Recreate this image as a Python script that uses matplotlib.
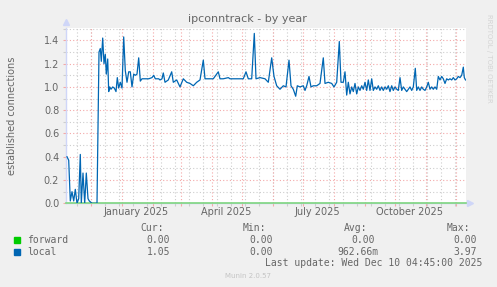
import datetime as dt
import matplotlib
matplotlib.use("Agg")
import matplotlib.pyplot as plt
import matplotlib.dates as mdates

# time range of the munin "by year" graph (400 days ending at last update)
end = dt.datetime(2025, 12, 10, 4, 45)
start = end - dt.timedelta(days=400)

# local: days since start, established connections (daily averages)
local_days = [
    1.5, 3.2, 4.8, 6.5, 8.2, 9.8, 11.5, 13.2, 14.8, 15.8, 17.5, 19.2, 20.8, 22.5,
    23.8, 26.5, 31.5, 33.5, 34.8, 35.8, 37.2, 38.5, 39.8, 40.8, 42.2, 43.2, 44.2,
    45.5, 47.2, 48.8, 50.5, 51.8, 53.2, 54.8, 56.5, 58.2, 59.8, 61.5, 63.2, 64.8,
    66.5, 68.2, 69.8, 71.5, 73.2, 74.8, 76.5, 79.8, 83.2, 86.5, 88.2, 89.8, 93.2,
    94.5, 96.5, 97.8, 99.5, 102.8, 106.2, 107.8, 111.2, 114.5, 117.8, 121.2, 124.5,
    127.8, 131.2, 134.5, 137.8, 139.5, 142.8, 147.8, 152.8, 154.5, 157.8, 162.8,
    164.5, 167.8, 172.8, 177.8, 180.5, 182.8, 186.2, 188.8, 190.5, 194.5, 199.5,
    202.8, 206.2, 208.5, 211.2, 214.5, 217.8, 220.5, 223.5, 225.5, 227.8, 230.2,
    231.8, 234.5, 237.8, 239.5, 241.2, 243.5, 245.5, 247.8, 251.2, 254.5, 257.8,
    259.5, 262.8, 266.2, 268.5, 271.2, 273.8, 275.5, 277.8, 279.5, 281.2, 282.8,
    284.5, 286.2, 287.8, 289.5, 291.2, 292.8, 294.5, 296.2, 297.8, 299.5, 301.2,
    302.8, 304.5, 306.2, 307.8, 309.5, 311.2, 312.8, 314.5, 316.2, 317.8, 319.5,
    321.2, 322.8, 324.5, 326.2, 327.8, 329.5, 331.2, 332.8, 334.5, 336.2, 337.8,
    339.5, 341.2, 342.8, 344.5, 346.2, 347.8, 349.8, 351.2, 352.8, 354.5, 356.2,
    357.8, 359.5, 361.2, 362.8, 364.5, 366.2, 367.8, 369.5, 371.2, 372.8, 374.5,
    376.2, 377.8, 379.5, 381.2, 382.8, 384.5, 386.2, 387.8, 389.5, 391.2, 392.8,
    394.5, 396.2, 397.8, 398.8, 400.0,
]
local_vals = [
    0.40, 0.37, 0.02, 0.10, 0.02, 0.12, 0.00, 0.04, 0.42, 0.00, 0.26, 0.00, 0.26, 0.04,
    0.02, 0.00, 0.00, 1.30, 1.33, 1.22, 1.42, 1.20, 1.28, 1.11, 1.24, 0.96, 1.00,
    0.98, 1.00, 0.99, 0.96, 1.08, 0.99, 1.04, 0.99, 1.43, 1.14, 1.04, 1.13, 1.13,
    1.00, 1.11, 1.10, 1.11, 1.25, 1.05, 1.07, 1.07, 1.07, 1.08, 1.10, 1.07, 1.07,
    1.06, 1.07, 1.12, 1.04, 1.06, 1.13, 1.04, 1.06, 1.00, 1.07, 1.04, 1.03,
    1.01, 1.04, 1.06, 1.23, 1.07, 1.07, 1.07, 1.13, 1.07, 1.07, 1.08,
    1.07, 1.07, 1.07, 1.07, 1.13, 1.07, 1.07, 1.46, 1.07, 1.08, 1.07,
    1.04, 1.25, 1.09, 1.01, 0.98, 1.01, 1.00, 1.23, 1.01, 0.98, 0.92,
    1.01, 1.00, 1.01, 0.97, 1.01, 1.09, 1.00, 1.01, 1.01, 1.03, 1.25,
    1.03, 1.04, 1.03, 1.00, 1.04, 1.39, 1.04, 1.04, 1.13, 0.93, 1.04,
    0.94, 1.00, 0.96, 1.03, 0.94, 1.00, 0.97, 1.01, 0.98, 1.04, 0.97,
    1.06, 0.97, 1.07, 0.97, 1.00, 0.98, 1.01, 0.97, 1.00, 0.97, 1.00,
    0.98, 1.01, 0.96, 1.01, 0.97, 1.00, 0.98, 0.97, 1.08, 0.97, 1.00,
    0.98, 0.96, 0.98, 1.00, 0.97, 1.00, 1.16, 0.97, 1.00, 0.97, 1.00,
    0.98, 0.97, 1.00, 1.04, 0.98, 1.00, 0.98, 1.00, 0.98, 1.09, 1.06,
    1.09, 1.07, 1.03, 1.07, 1.06, 1.07, 1.06, 1.08, 1.06, 1.07, 1.09,
    1.08, 1.10, 1.17, 1.08, 1.06,
]

# legend table
legend_names = ["forward", "local"]
legend_colors = ["#00CC00", "#0066B3"]
col_heads = ["Cur:", "Min:", "Avg:", "Max:"]
forward_stats = ["0.00", "0.00", "0.00", "0.00"]
local_stats = ["1.05", "0.00", "962.66m", "3.97"]

y_ticks = [0.0, 0.2, 0.4, 0.6, 0.8, 1.0, 1.2, 1.4]
x_labels = ["January 2025", "April 2025", "July 2025", "October 2025"]
x_label_dates = [dt.datetime(2025, m, 15) for m in (1, 4, 7, 10)]

W, H = 497, 287
FONT = "#666666"
AXIS = "#CFD6F8"
RED = "#F4A8A8"
GREY = "#CDCDCD"

fig = plt.figure(figsize=(W / 100, H / 100), dpi=100, facecolor="#F0F0F0")
ax = fig.add_axes([65.5 / W, (H - 203.3) / H, 400 / W, 175.6 / H])
ax.set_facecolor("white")

t0 = mdates.date2num(start)
t1 = mdates.date2num(end)
ax.set_xlim(t0, t1)
ax.set_ylim(0, 1.509)

# grid like rrdtool: grey minor, red major, dotted
month_starts = [dt.datetime(2024 + (10 + k) // 12, (10 + k) % 12 + 1, 1) for k in range(1, 14)]
biweekly = [dt.datetime(2024, 11, 17) + dt.timedelta(days=14 * k) for k in range(28)]
biweekly = [d for d in biweekly if d < end]
for d in biweekly:
    ax.axvline(d, color=GREY, lw=0.8, ls=(0, (1, 2)), zorder=1)
for k in range(1, 16):
    if k % 2:
        ax.axhline(k / 10, color=GREY, lw=0.8, ls=(0, (1, 2)), zorder=1)
for d in month_starts:
    ax.axvline(d, color=RED, lw=0.8, ls=(0, (1, 2)), zorder=1.5)
for v in y_ticks[1:]:
    ax.axhline(v, color=RED, lw=0.8, ls=(0, (1, 2)), zorder=1.5)

ax.set_xticks(month_starts)
ax.set_xticklabels([])
ax.set_xticks(biweekly, minor=True)
ax.set_yticks(y_ticks)
ax.set_yticklabels([f"{v:.1f}" for v in y_ticks])
ax.tick_params(axis="both", which="major", length=2.5, width=0.8, color=RED,
               labelsize=7, labelcolor=FONT, pad=2)
ax.tick_params(axis="both", which="minor", length=2.5, width=0.8, color=GREY)
ax.set_yticks([k / 10 for k in range(1, 16, 2)], minor=True)

for lab, d in zip(x_labels, x_label_dates):
    ax.text(d, -0.05, lab, transform=ax.get_xaxis_transform(), ha="center", va="center",
            fontsize=7, color=FONT)

for s in ["top", "right"]:
    ax.spines[s].set_visible(False)
for s in ["left", "bottom"]:
    ax.spines[s].set_color(AXIS)
    ax.spines[s].set_linewidth(1)
# axis arrows
ax.plot([0], [1.03], marker="^", ms=4, color=AXIS, transform=ax.transAxes, clip_on=False)
ax.plot([1.012], [0], marker=">", ms=4, color=AXIS, transform=ax.transAxes, clip_on=False)

ax.set_ylabel("established connections", fontsize=7, color=FONT)
ax.yaxis.set_label_coords((17.5 - 65.5) / 400, 0.5)

# series
local_x = [t0 + d for d in local_days]
ax.plot([t0, t1], [0, 0], color="#7FD67F", lw=1.2, zorder=3, clip_on=False)
ax.plot(local_x, local_vals, color="#0066B3", lw=0.9, zorder=4)


def ftext(x, y, s, **kw):
    fig.text(x / W, 1 - y / H, s, **kw)


ftext(247.5, 19.5, "ipconntrack - by year", ha="center", va="center", fontsize=8, color=FONT)
ftext(489, 58, "RRDTOOL / TOBI OETIKER", ha="center", va="center", rotation=270,
      fontsize=5, color="#D4D4D4")

mono = dict(family="DejaVu Sans Mono", fontsize=7, color=FONT, va="center")
head_x = [140, 242.7, 344.3, 446.7]
for x, h in zip(head_x, col_heads):
    ftext(x, 227.7, h, **mono)
rows = [(239.7, forward_stats, [146.7, 249.3, 351.7, 453.3]),
        (251.7, local_stats, [146.7, 249.3, 337.7, 453.3])]
for (y, stats, xs), name, c in zip(rows, legend_names, legend_colors):
    fig.patches.append(plt.Rectangle((14 / W, 1 - (y + 3) / H), 6 / W, 6 / H,
                                     transform=fig.transFigure, color=c))
    ftext(27, y, name, **mono)
    for x, s in zip(xs, stats):
        ftext(x, y, s, **mono)
ftext(482.3, 263.3, "Last update: Wed Dec 10 04:45:00 2025", ha="right", **mono)
ftext(247.7, 276.3, "Munin 2.0.57", ha="center", va="center", fontsize=5, color="#C4C4C4")

fig.savefig("out.png", dpi=100, facecolor=fig.get_facecolor())
